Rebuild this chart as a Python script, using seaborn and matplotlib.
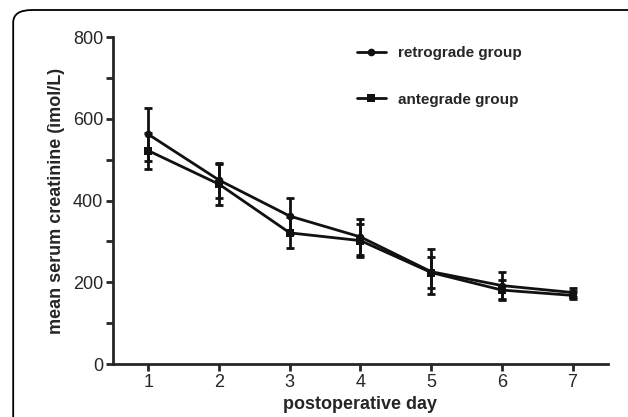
import numpy as np
import pandas as pd
import matplotlib
matplotlib.use("Agg")
import matplotlib.pyplot as plt
from matplotlib.patches import FancyBboxPatch
import seaborn as sns

# dados
days = [1, 2, 3, 4, 5, 6, 7]
retro_mean = [562, 450, 362, 311, 226, 192, 175]
retro_sd = [64, 43, 44, 45, 55, 33, 10]
ante_mean = [522, 440, 321, 302, 224, 181, 168]
ante_sd = [44, 50, 38, 40, 38, 25, 10]
group_names = ["retrograde group", "antegrade group"]

sns.set_theme(style="ticks")
plt.rcParams["font.family"] = ["Liberation Sans", "DejaVu Sans"]

df = pd.DataFrame({
    "day": days * 2,
    "value": retro_mean + ante_mean,
    "sd": retro_sd + ante_sd,
    "group": [group_names[0]] * len(days) + [group_names[1]] * len(days),
})

fig = plt.figure(figsize=(6.28, 4.17), dpi=100)
ax = fig.add_axes([0.180, 0.127, 0.788, 0.784])

# moldura arredondada
frame = FancyBboxPatch((0.021, -0.1), 1.2, 1.076, boxstyle="round,pad=0,rounding_size=0.03",
                       transform=fig.transFigure, fill=False, edgecolor="black",
                       linewidth=1.3, clip_on=False)
fig.patches.append(frame)

for g, sub in df.groupby("group", sort=False):
    ax.errorbar(sub["day"], sub["value"], yerr=sub["sd"], fmt="none", ecolor="#111111",
                elinewidth=2, capsize=3, capthick=2, zorder=2)

sns.lineplot(data=df, x="day", y="value", hue="group", style="group",
             palette=["#111111", "#111111"], markers=["o", "s"], dashes=False,
             markersize=5.5, linewidth=2, markeredgewidth=0, ax=ax, zorder=3)

ax.set_xlim(0.5, 7.5)
ax.set_ylim(0, 800)
ax.set_xticks(days)
ax.set_yticks([0, 200, 400, 600, 800])
ax.set_yticks([100, 300, 500, 700], minor=True)
ax.tick_params(axis="both", which="major", direction="out", length=5, width=2,
               labelsize=13, pad=2)
ax.tick_params(axis="y", which="minor", direction="out", length=5, width=2)
for s in ["left", "bottom"]:
    ax.spines[s].set_linewidth(2)
for s in ["top", "right"]:
    ax.spines[s].set_visible(False)

ax.set_xlabel("postoperative day", fontsize=13, fontweight="bold", labelpad=4)
ax.set_ylabel("mean serum creatinine (ìmol/L)", fontsize=13, fontweight="bold", labelpad=6)

handles, labels = ax.get_legend_handles_labels()
leg = ax.legend(handles, labels, loc="upper left", bbox_to_anchor=(0.465, 1.015),
                frameon=False, prop={"weight": "bold", "size": 11},
                labelspacing=2.15, handlelength=1.9, handletextpad=0.8)

fig.savefig("out.png", dpi=100)
